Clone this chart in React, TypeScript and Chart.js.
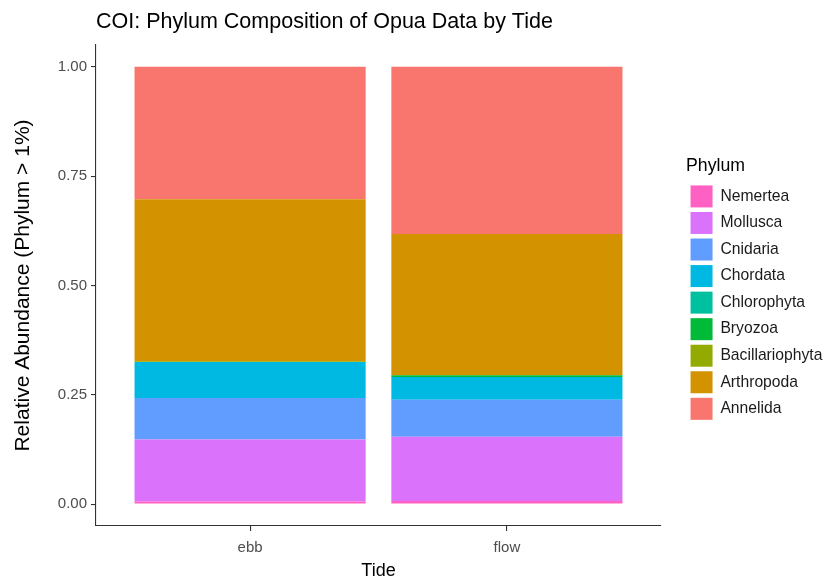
import React, { useEffect, useRef } from "react";
import { Chart, registerables } from "chart.js";
Chart.register(...registerables);

const TITLE = "COI: Phylum Composition of Opua Data by Tide";
const X_TITLE = "Tide";
const Y_TITLE = "Relative Abundance (Phylum > 1%)";
const LEGEND_TITLE = "Phylum";
const TIDES = ["ebb", "flow"];
const PHYLA = ["Nemertea", "Mollusca", "Cnidaria", "Chordata", "Chlorophyta", "Bryozoa", "Bacillariophyta", "Arthropoda", "Annelida"];
const COLORS = ["#FF61C3", "#DB72FB", "#619CFF", "#00B9E3", "#00C19F", "#00BA38", "#93AA00", "#D39200", "#F8766D"];
const EBB = [0.006, 0.142, 0.095, 0.082, 0, 0, 0.002, 0.37, 0.303];
const FLOW = [0.007, 0.147, 0.085, 0.052, 0, 0.004, 0, 0.323, 0.382];
const Y_TICKS = [0, 0.25, 0.5, 0.75, 1];

const FONT = "'Liberation Sans', Arial, sans-serif";

export default function App() {
  const ref = useRef<HTMLCanvasElement | null>(null);
  useEffect(() => {
    if (!ref.current) return;
    const series = [EBB, FLOW];
    const datasets = PHYLA.map((name, i) => ({
      label: name,
      data: TIDES.map((_, t) => ({ x: t + 1, y: series[t][i] })),
      backgroundColor: COLORS[i],
      borderWidth: 0,
      categoryPercentage: 0.9,
      barPercentage: 1,
    }));
    const chart = new Chart(ref.current, {
      type: "bar",
      data: { datasets },
      options: {
        animation: false,
        responsive: true,
        maintainAspectRatio: false,
        layout: { padding: 0 },
        plugins: {
          tooltip: { enabled: false },
          title: {
            display: true,
            text: TITLE,
            align: "start",
            fullSize: false,
            color: "#000",
            font: { family: FONT, size: 21.5, weight: "normal" },
            padding: { top: 9.6, bottom: 9.6 },
          },
          legend: {
            position: "right",
            align: "center",
            maxWidth: 141,
            title: {
              display: true,
              text: LEGEND_TITLE,
              position: "start",
              color: "#000",
              font: { family: FONT, size: 17.7 },
              padding: { top: 0, bottom: 2 },
            },
            labels: {
              boxWidth: 22,
              boxHeight: 22,
              padding: 4.55,
              color: "#1A1A1A",
              font: { family: FONT, size: 15.7 },
            },
          },
        },
        scales: {
          x: {
            type: "linear",
            min: 0.4,
            max: 2.6,
            offset: false,
            stacked: true,
            afterBuildTicks: (s: any) => {
              s.ticks = TIDES.map((_, i) => ({ value: i + 1 }));
            },
            ticks: {
              callback: (v: any) => TIDES[Math.round(Number(v)) - 1] ?? "",
              color: "#4D4D4D",
              font: { family: FONT, size: 15 },
              padding: 8,
              autoSkip: false,
              maxRotation: 0,
            },
            grid: { offset: false, drawOnChartArea: false, drawTicks: true, tickLength: 5, tickColor: "#333", lineWidth: 1.1 },
            border: { display: true, color: "#333", width: 1.1 },
            title: {
              display: true,
              text: X_TITLE,
              color: "#000",
              font: { family: FONT, size: 18 },
              padding: { top: 0, bottom: 0 },
            },
            afterFit: (s: any) => {
              s.height = 56;
            },
          },
          y: {
            type: "linear",
            min: -0.05,
            max: 1.05,
            stacked: true,
            afterBuildTicks: (s: any) => {
              s.ticks = Y_TICKS.map((v) => ({ value: v }));
            },
            ticks: {
              callback: (v: any) => Number(v).toFixed(2),
              color: "#4D4D4D",
              font: { family: FONT, size: 15 },
              padding: 4,
              autoSkip: false,
            },
            grid: { drawOnChartArea: false, drawTicks: true, tickLength: 5, tickColor: "#333", lineWidth: 1.1 },
            border: { display: true, color: "#333", width: 1.1 },
            title: {
              display: true,
              text: Y_TITLE,
              color: "#000",
              font: { family: FONT, size: 21 },
              padding: { top: 10.5, bottom: 0 },
            },
            afterFit: (s: any) => {
              s.width = 96;
            },
          },
          yR: {
            type: "linear",
            position: "right",
            display: true,
            ticks: { display: false },
            grid: { display: false },
            border: { display: false },
            afterFit: (s: any) => {
              s.width = 25;
            },
          },
        },
      } as any,
    });
    return () => chart.destroy();
  }, []);
  return (
    <div style={{ position: "fixed", left: 0, top: 0, width: 827, height: 582, background: "#fff" }}>
      <canvas ref={ref} />
    </div>
  );
}
